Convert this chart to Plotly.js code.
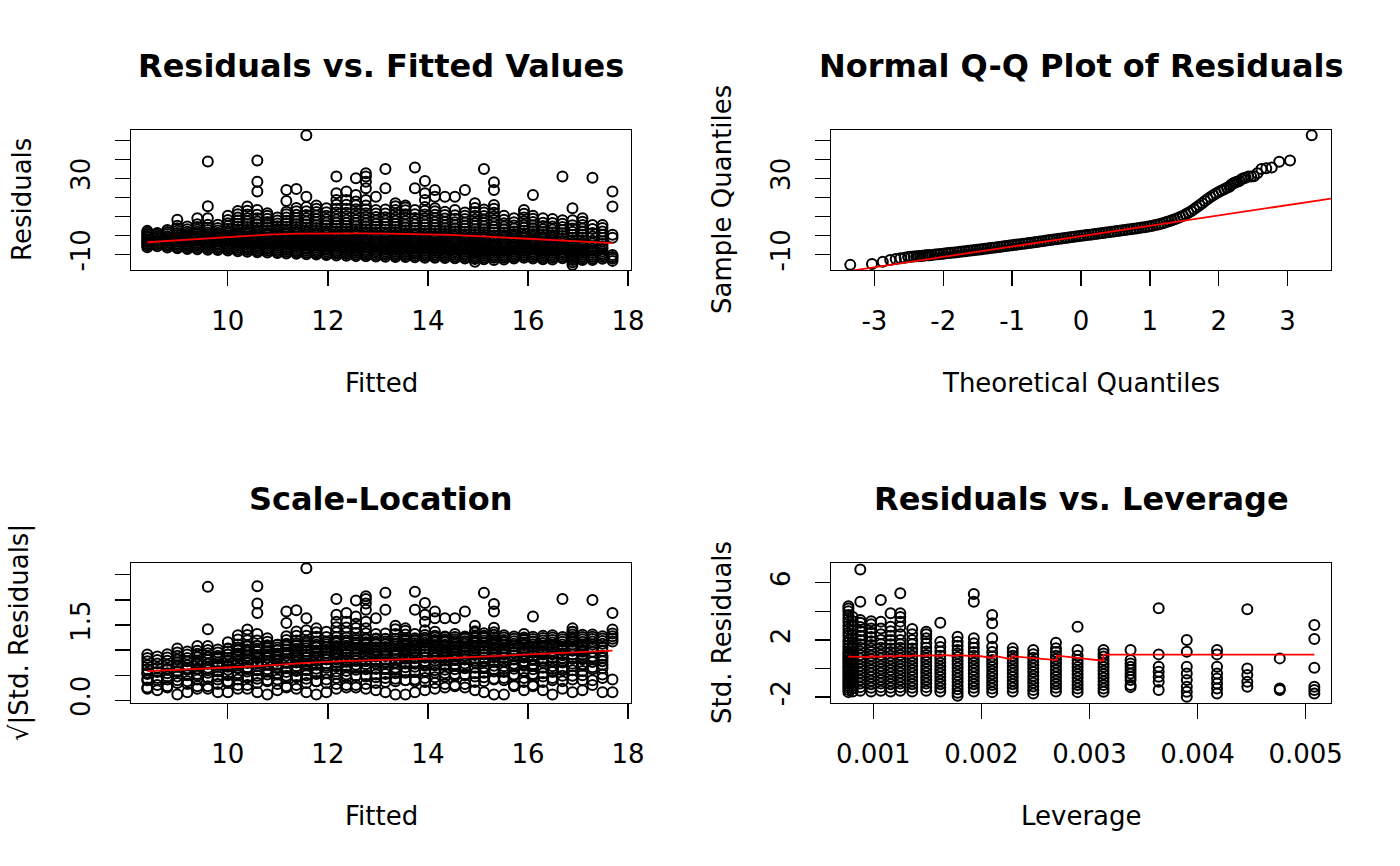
<!DOCTYPE html>
<html>
<head>
<meta charset="utf-8">
<script src="https://cdn.plot.ly/plotly-3.0.1.min.js"></script>
<style>html,body{margin:0;padding:0;background:#fff;}#chart{width:1400px;height:866px;}</style>
</head>
<body>
<div id="chart"></div>
<script>
// ---------- Panel 1 / 3 data: fitted value columns and their residuals ----------
const fittedValues = [8.39, 8.59, 8.79, 8.99, 9.19, 9.39, 9.6, 9.8, 10.0, 10.2, 10.39, 10.59, 10.79, 10.99, 11.17, 11.37,
  11.57, 11.77, 11.97, 12.17, 12.37, 12.56, 12.76, 12.96, 13.15, 13.35, 13.55, 13.74, 13.94, 14.14, 14.34, 14.54,
  14.74, 14.94, 15.12, 15.32, 15.52, 15.72, 15.92, 16.1, 16.3, 16.49, 16.69, 16.89, 17.09, 17.29, 17.49, 17.69];

const residualColumns = [
  [-6.3,-5.4,-4.6,-3.7,-2.9,-2.1,-1.2,-0.4,0.5,1.4,2.3],
  [-5.8,-4.9,-4.1,-3.2,-2.4,-1.5,-0.7,0.3,1.2],
  [-6.4,-5.5,-4.7,-3.8,-3.0,-2.2,-1.3,-0.5,0.6,1.7,2.8],
  [-6.9,-6.0,-5.1,-4.3,-3.4,-2.6,-1.7,-0.9,0.1,1.2,2.4,3.7,5.0,8.1],
  [-7.2,-6.3,-5.4,-4.6,-3.7,-2.8,-2.0,-1.1,-0.2,0.8,1.9,3.1,4.6],
  [-7.4,-6.5,-5.6,-4.7,-3.9,-3.0,-2.1,-1.3,-0.4,0.6,1.8,3.0,4.3,5.8,8.9],
  [-7.6,-6.7,-5.8,-4.9,-4.1,-3.2,-2.3,-1.5,-0.6,0.4,1.5,2.7,4.0,5.5,8.9,15.2,38.8],
  [-7.8,-6.9,-6.0,-5.2,-4.3,-3.4,-2.6,-1.7,-0.8,0.2,1.3,2.5,3.8,5.5],
  [-8.1,-7.2,-6.3,-5.4,-4.6,-3.7,-2.8,-1.9,-1.1,-0.2,0.9,2.1,3.4,4.8,6.3,8.0,10.2],
  [-8.4,-7.5,-6.6,-5.7,-4.8,-4.0,-3.1,-2.2,-1.3,-0.4,0.7,1.9,3.2,4.6,6.1,7.7,9.4,11.1,12.8],
  [-8.7,-7.8,-6.9,-6.0,-5.1,-4.2,-3.3,-2.5,-1.6,-0.7,0.4,1.6,2.9,4.3,5.8,7.4,9.1,10.9,12.9,15.1],
  [-8.9,-8.0,-7.1,-6.2,-5.3,-4.4,-3.6,-2.7,-1.8,-0.9,0.2,1.4,2.7,4.1,5.6,7.2,8.9,10.8,13.3,23.0,28.2,39.3],
  [-9.1,-8.2,-7.3,-6.4,-5.5,-4.6,-3.8,-2.9,-2.0,-1.1,0.1,1.2,2.5,3.9,5.4,7.0,8.7,10.3,11.6],
  [-9.3,-8.4,-7.5,-6.6,-5.7,-4.8,-3.9,-3.1,-2.2,-1.3,-0.3,0.8,2.0,3.3,4.7,6.2,7.7,9.3],
  [-9.6,-8.7,-7.8,-6.9,-6.0,-5.1,-4.2,-3.3,-2.4,-1.5,-0.5,0.6,1.8,3.1,4.5,6.0,7.6,9.3,11.0,12.4,18.0,23.8],
  [-9.8,-8.9,-8.0,-7.1,-6.2,-5.3,-4.4,-3.5,-2.6,-1.7,-0.7,0.4,1.6,2.9,4.3,5.8,7.4,9.1,10.8,12.6,14.3,24.4],
  [-10.0,-9.1,-8.2,-7.3,-6.4,-5.5,-4.6,-3.7,-2.8,-1.9,-0.9,0.2,1.4,2.7,4.1,5.6,7.2,8.9,10.7,12.6,14.8,20.3,52.6],
  [-10.2,-9.3,-8.4,-7.5,-6.6,-5.7,-4.8,-3.9,-3.0,-2.1,-1.1,-0.1,1.1,2.4,3.8,5.3,6.9,8.6,10.4,12.2,14.0,15.6],
  [-10.4,-9.5,-8.6,-7.7,-6.8,-5.9,-5.0,-4.1,-3.2,-2.3,-1.3,-0.2,0.9,2.2,3.6,5.1,6.7,8.4,10.2,12.1,14.2],
  [-10.7,-9.8,-8.9,-8.0,-7.1,-6.2,-5.3,-4.4,-3.5,-2.5,-1.5,-0.4,0.8,2.1,3.5,5.0,6.6,8.3,10.1,12.0,14.0,16.1,18.6,22.1,30.9],
  [-10.8,-9.9,-9.0,-8.1,-7.2,-6.3,-5.4,-4.5,-3.6,-2.6,-1.6,-0.5,0.7,2.0,3.4,4.9,6.5,8.2,10.0,11.9,13.9,16.0,18.6,23.0],
  [-11.0,-10.1,-9.2,-8.3,-7.4,-6.5,-5.6,-4.7,-3.8,-2.8,-1.8,-0.7,0.5,1.8,3.2,4.7,6.3,8.0,9.8,11.7,13.7,15.8,17.7,21.2,30.0],
  [-11.1,-10.2,-9.3,-8.4,-7.5,-6.6,-5.7,-4.8,-3.9,-2.9,-1.9,-0.8,0.4,1.7,3.1,4.6,6.2,7.9,9.7,11.6,13.6,15.7,18.6,24.7,28.2,30.9,32.6],
  [-11.2,-10.3,-9.4,-8.5,-7.6,-6.7,-5.8,-4.9,-4.0,-3.0,-2.0,-0.9,0.3,1.6,3.0,4.5,6.1,7.8,9.6,11.5,13.3,20.3],
  [-11.3,-10.4,-9.5,-8.6,-7.7,-6.8,-5.9,-5.0,-4.1,-3.1,-2.1,-1.0,0.2,1.5,2.9,4.4,6.0,7.7,9.5,11.4,13.5,24.7,34.9],
  [-11.4,-10.5,-9.6,-8.7,-7.8,-6.9,-6.0,-5.1,-4.2,-3.2,-2.2,-1.1,0.1,1.4,2.8,4.3,5.9,7.6,9.4,11.3,13.3,15.2,16.8],
  [-11.5,-10.6,-9.7,-8.8,-7.9,-7.0,-6.1,-5.2,-4.3,-3.3,-2.3,-1.2,-0.1,1.2,2.6,4.1,5.7,7.4,9.2,11.1,13.1,14.6,15.6],
  [-11.6,-10.7,-9.8,-8.9,-8.0,-7.1,-6.2,-5.3,-4.4,-3.4,-2.4,-1.3,-0.2,1.1,2.5,4.0,5.6,7.3,9.1,11.0,13.3,24.7,35.6],
  [-11.8,-10.9,-10.0,-9.1,-8.2,-7.3,-6.4,-5.5,-4.6,-3.6,-2.6,-1.5,-0.3,1.0,2.4,3.9,5.5,7.2,9.0,10.9,12.9,14.8,18.6,22.1,28.6],
  [-11.9,-11.0,-10.1,-9.2,-8.3,-7.4,-6.5,-5.6,-4.7,-3.7,-2.7,-1.6,-0.4,0.9,2.3,3.8,5.4,7.1,8.9,10.8,12.6,14.2,20.3,23.8],
  [-12.0,-11.1,-10.2,-9.3,-8.4,-7.5,-6.6,-5.7,-4.8,-3.8,-2.8,-1.7,-0.5,0.8,2.2,3.7,5.3,7.0,8.8,10.6,12.3,20.3],
  [-12.1,-11.2,-10.3,-9.4,-8.5,-7.6,-6.7,-5.8,-4.9,-3.9,-2.9,-1.8,-0.6,0.7,2.1,3.6,5.2,6.9,8.7,10.5,13.3,20.3],
  [-12.3,-11.4,-10.5,-9.6,-8.7,-7.8,-6.9,-6.0,-5.1,-4.1,-3.1,-2.0,-0.8,0.5,1.9,3.4,5.0,6.7,8.5,10.3,12.0,23.8],
  [-13.9,-12.5,-11.6,-10.7,-9.8,-8.9,-8.0,-7.1,-6.2,-5.3,-4.3,-3.3,-2.2,-1.0,0.3,1.7,3.2,4.8,6.5,8.3,10.2,12.2,14.4,16.8],
  [-12.6,-11.7,-10.8,-9.9,-9.0,-8.1,-7.2,-6.3,-5.4,-4.4,-3.4,-2.3,-1.1,0.2,1.6,3.1,4.7,6.4,8.2,10.1,12.0,13.6,34.9],
  [-13.0,-11.9,-11.0,-10.1,-9.2,-8.3,-7.4,-6.5,-5.6,-4.6,-3.6,-2.5,-1.3,-0.1,1.4,2.9,4.5,6.2,8.0,9.9,11.8,14.0,15.9,23.8,27.9],
  [-12.8,-11.9,-11.0,-10.1,-9.2,-8.3,-7.4,-6.5,-5.5,-4.5,-3.5,-2.4,-1.2,0.1,1.5,3.0,4.6,6.3,8.2,10.3],
  [-12.3,-11.4,-10.5,-9.6,-8.7,-7.8,-6.9,-6.0,-5.0,-4.0,-3.0,-1.9,-0.7,0.6,2.0,3.5,5.1,6.9,8.9],
  [-11.9,-11.0,-10.1,-9.2,-8.3,-7.4,-6.5,-5.6,-4.6,-3.6,-2.6,-1.5,-0.3,1.0,2.4,3.9,5.5,7.3,9.3,11.3,13.3],
  [-12.2,-11.3,-10.4,-9.5,-8.6,-7.7,-6.8,-5.9,-4.9,-3.9,-2.9,-1.8,-0.6,0.7,2.1,3.6,5.2,7.0,8.7,10.3,21.2],
  [-12.6,-11.7,-10.8,-9.9,-9.0,-8.1,-7.2,-6.3,-5.3,-4.3,-3.3,-2.2,-1.0,0.3,1.7,3.2,4.8,6.6,8.9],
  [-12.8,-11.9,-11.0,-10.1,-9.2,-8.3,-7.4,-6.5,-5.5,-4.5,-3.5,-2.4,-1.2,0.1,1.5,3.0,4.6,6.4,8.6],
  [-12.1,-11.2,-10.3,-9.4,-8.5,-7.5,-6.5,-5.4,-4.3,-3.1,-1.8,-0.4,1.1,2.7,4.4,6.1,7.9,30.9],
  [-15.6,-14.2,-13.1,-12.1,-11.2,-10.3,-9.4,-8.4,-7.4,-6.3,-5.2,-4.0,-2.7,-1.3,0.2,1.8,3.5,5.3,7.9,14.2],
  [-13.0,-12.1,-11.2,-10.3,-9.4,-8.4,-7.4,-6.3,-5.1,-3.9,-2.6,-1.2,0.3,1.9,3.6,5.4,7.1,8.9],
  [-13.1,-12.2,-11.3,-10.4,-9.4,-8.3,-7.1,-5.8,-4.4,-2.9,-0.7,1.2,3.3,5.4,30.3],
  [-12.4,-11.5,-10.6,-9.6,-8.5,-7.3,-6.0,-4.6,-3.1,-1.5,0.2,2.0,3.8,5.4],
  [-13.5,-12.4,-11.4,-10.4,-1.3,0.2,15.1,23.0]
];
const residualSE = 7.6;

const lowessFittedX = [8.39, 9.0, 9.6, 10.2, 10.8, 11.4, 12.0, 12.6, 13.2, 13.8, 14.4, 15.0, 15.6, 16.2, 16.8, 17.4, 17.69];
const lowessResidualY = [-3.7, -2.6, -1.5, -0.5, 0.3, 0.8, 1.0, 1.0, 0.9, 0.6, 0.2, -0.5, -1.3, -2.2, -3.1, -3.9, -4.2];
const lowessScaleX = [8.39, 9.5, 10.6, 11.5, 12.3, 13.3, 14.4, 15.3, 16.2, 17.0, 17.69];
const lowessScaleY = [0.58, 0.63, 0.68, 0.74, 0.78, 0.81, 0.84, 0.88, 0.92, 0.95, 0.99];

// ---------- Panel 2 data: normal Q-Q ----------
const qqTheoretical = [-3.35,-3.035,-2.878,-2.77,-2.69,-2.62,-2.56,-2.51,-2.47,-2.43,-2.39,-2.36,-2.33,-2.30,-2.27,-2.245,-2.22,-2.20,
  -2.16,-2.12,-2.08,-2.04,-2.00,-1.96,-1.92,-1.88,-1.84,-1.80,-1.76,-1.72,-1.68,-1.64,-1.60,-1.56,-1.52,-1.48,-1.44,-1.40,
  -1.36,-1.32,-1.28,-1.24,-1.20,-1.16,-1.12,-1.08,-1.04,-1.00,-0.96,-0.92,-0.88,-0.84,-0.80,-0.76,-0.72,-0.68,-0.64,-0.60,
  -0.56,-0.52,-0.48,-0.44,-0.40,-0.36,-0.32,-0.28,-0.24,-0.20,-0.16,-0.12,-0.08,-0.04,0,0.04,0.08,0.12,0.16,0.20,
  0.24,0.28,0.32,0.36,0.40,0.44,0.48,0.52,0.56,0.60,0.64,0.68,0.72,0.76,0.80,0.84,0.88,0.92,0.96,1.00,
  1.04,1.08,1.12,1.16,1.20,1.24,1.28,1.32,1.36,1.40,1.44,1.48,1.52,1.56,1.60,1.64,1.68,1.72,1.76,1.80,
  1.84,1.88,1.92,1.96,2.00,2.04,2.08,2.12,
  2.155,2.175,2.20,2.22,2.245,2.27,2.30,2.33,2.36,2.39,2.43,2.47,2.51,2.56,2.62,2.69,2.77,2.878,3.035,3.35];
const qqSample = [-15.6,-15.1,-13.9,-13.0,-12.5,-12.1,-11.8,-11.5,-11.3,-11.2,-11.1,-11.0,-10.9,-10.8,-10.7,-10.6,-10.55,-10.5,
  -10.34,-10.18,-10.02,-9.86,-9.70,-9.54,-9.38,-9.22,-9.06,-8.90,-8.73,-8.56,-8.39,-8.22,-8.05,-7.87,-7.69,-7.51,-7.33,-7.15,
  -6.96,-6.77,-6.58,-6.39,-6.20,-6.01,-5.82,-5.63,-5.44,-5.25,-5.06,-4.87,-4.68,-4.49,-4.30,-4.10,-3.90,-3.70,-3.50,-3.30,
  -3.10,-2.90,-2.70,-2.50,-2.30,-2.10,-1.90,-1.70,-1.50,-1.30,-1.10,-0.90,-0.70,-0.50,-0.30,-0.12,0.06,0.24,0.42,0.60,
  0.80,1.00,1.20,1.40,1.60,1.80,2.00,2.20,2.40,2.60,2.80,3.00,3.20,3.40,3.60,3.82,4.04,4.26,4.48,4.70,
  5.02,5.34,5.70,6.10,6.50,6.94,7.38,7.88,8.44,9.00,9.64,10.28,11.00,11.80,12.60,13.64,14.68,15.76,16.88,18.00,
  19.04,20.08,21.04,21.92,22.80,23.52,24.24,24.96,
  25.5,26.5,27.0,27.5,27.9,28.2,28.6,29.5,30.0,30.3,30.9,30.9,31.0,32.6,34.9,35.2,35.6,38.7,39.3,52.6];
const qqLineX = [-3.63, 3.63];
const qqLineY = [-20.3, 19.3];

// ---------- Panel 4 data: leverage columns and standardized residuals ----------
const leverageValues = [0.00077, 0.00081, 0.00088, 0.00098, 0.00107, 0.00116, 0.00125, 0.00136, 0.00149, 0.00162, 0.00178,
  0.00193, 0.0021, 0.00229, 0.00248, 0.00269, 0.00289, 0.00313, 0.00338, 0.00364, 0.0039, 0.00418, 0.00446, 0.00476, 0.00508];
const stdResidualColumns = [
  [-1.65,-1.5,-1.35,-1.2,-1.05,-0.9,-0.75,-0.6,-0.45,-0.3,-0.15,0,0.15,0.3,0.45,0.6,0.75,0.9,1.05,1.2,1.4,1.6,1.8,2.0,2.25,2.5,2.75,3.0,3.25,3.5,3.75,4.0,4.2,4.35],
  [-1.6,-1.4,-1.2,-1.0,-0.8,-0.6,-0.4,-0.2,0,0.2,0.4,0.6,0.8,1.0,1.2,1.4,1.6,1.8,2.1,2.4,2.7,3.0,3.3,3.6],
  [-1.55,-1.3,-1.05,-0.8,-0.55,-0.3,-0.05,0.2,0.45,0.7,0.95,1.2,1.45,1.7,2.0,2.3,2.6,2.9,3.2,3.4,4.67,6.93],
  [-1.6,-1.35,-1.1,-0.85,-0.6,-0.35,-0.1,0.15,0.4,0.65,0.9,1.15,1.4,1.65,1.9,2.2,2.5,2.8,3.1,3.3],
  [-1.55,-1.3,-1.05,-0.8,-0.55,-0.3,-0.05,0.2,0.45,0.7,0.95,1.2,1.45,1.7,2.0,2.4,2.8,3.28,4.79],
  [-1.6,-1.35,-1.1,-0.85,-0.6,-0.35,-0.1,0.15,0.4,0.65,0.9,1.15,1.4,1.7,2.0,2.3,2.6,2.93,3.86],
  [-1.55,-1.3,-1.05,-0.8,-0.55,-0.3,-0.05,0.2,0.45,0.7,0.95,1.2,1.45,1.7,2.0,2.4,2.93,3.28,3.6,3.86,5.26],
  [-1.6,-1.35,-1.1,-0.85,-0.6,-0.35,-0.1,0.15,0.4,0.65,0.9,1.15,1.4,1.7,1.99,2.4,2.76],
  [-1.55,-1.3,-1.05,-0.8,-0.55,-0.3,-0.05,0.2,0.45,0.7,0.95,1.2,1.45,1.75,2.11,2.4,2.58],
  [-1.6,-1.35,-1.1,-0.85,-0.6,-0.35,-0.1,0.15,0.4,0.65,0.9,1.2,1.5,1.88,3.2],
  [-1.9,-1.7,-1.45,-1.2,-0.95,-0.7,-0.45,-0.2,0.05,0.3,0.55,0.8,1.05,1.3,1.6,1.88,2.23],
  [-1.6,-1.35,-1.1,-0.85,-0.6,-0.35,-0.1,0.15,0.4,0.65,0.9,1.15,1.45,1.76,2.11,4.67,5.21],
  [-1.65,-1.4,-1.15,-0.9,-0.65,-0.4,-0.15,0.1,0.35,0.6,0.85,1.15,1.53,2.11,3.16,3.74],
  [-1.6,-1.35,-1.1,-0.85,-0.6,-0.35,-0.1,0.15,0.4,0.65,0.9,1.15,1.41],
  [-1.75,-1.5,-1.25,-1.0,-0.75,-0.5,-0.25,0,0.25,0.5,0.75,1.0,1.29],
  [-1.6,-1.35,-1.1,-0.85,-0.6,-0.35,-0.1,0.15,0.4,0.65,0.9,1.15,1.41,1.81],
  [-1.65,-1.4,-1.15,-0.9,-0.65,-0.4,-0.15,0.1,0.35,0.6,0.9,1.29,2.93],
  [-1.62,-1.4,-1.15,-0.9,-0.65,-0.4,-0.15,0.1,0.35,0.6,0.85,1.05,1.29],
  [-1.3,-1.15,-0.8,-0.57,-0.34,-0.1,0.13,0.35,0.59,1.29],
  [-1.5,-0.92,-0.57,-0.22,0.13,0.99,4.21],
  [-1.97,-1.62,-1.27,-0.8,-0.34,0.13,1.18,1.99],
  [-1.74,-1.39,-1.04,-0.69,-0.34,0.13,0.99,1.29],
  [-1.27,-0.92,-0.45,0.01,4.14],
  [-1.5,-1.39,0.71],
  [-1.74,-1.5,-1.27,0.06,2.06,3.04]
];
const lowessLeverageX = [0.000769,0.000965,0.000972,0.00109,0.001096,0.001213,0.001219,0.001352,0.001358,0.001491,0.001497,
  0.00163,0.001636,0.001768,0.001774,0.001922,0.001928,0.002107,0.002113,0.002277,0.002283,0.002694,0.0027,0.003125,0.003131,0.00508];
const lowessLeverageY = [0.83,0.80,0.86,0.82,0.88,0.84,0.90,0.86,0.92,0.87,0.94,0.88,0.95,0.88,0.95,0.86,0.93,0.74,0.90,0.66,0.86,
  0.59,0.90,0.55,0.97,0.97];

// ---------- Build point arrays from the columns ----------
const p1x = [], p1y = [], p3y = [];
fittedValues.forEach((fx, i) => {
  residualColumns[i].forEach(r => {
    p1x.push(fx); p1y.push(r);
    p3y.push(Math.sqrt(Math.abs(r) / residualSE));
  });
});
const p4x = [], p4y = [];
leverageValues.forEach((lv, i) => {
  stdResidualColumns[i].forEach(s => { p4x.push(lv); p4y.push(s); });
});
const nq = Math.min(qqTheoretical.length, qqSample.length);

const marker = {symbol: 'circle-open', size: 10, color: 'black', line: {width: 2, color: 'black'}};
const redLine = {color: '#ff0000', width: 1.8};

const traces = [
  {type: 'scatter', mode: 'markers', x: p1x, y: p1y, xaxis: 'x', yaxis: 'y', marker: marker, showlegend: false},
  {type: 'scatter', mode: 'lines', x: lowessFittedX, y: lowessResidualY, xaxis: 'x', yaxis: 'y', line: redLine, showlegend: false},
  {type: 'scatter', mode: 'markers', x: qqTheoretical.slice(0, nq), y: qqSample.slice(0, nq), xaxis: 'x2', yaxis: 'y2', marker: marker, showlegend: false},
  {type: 'scatter', mode: 'lines', x: qqLineX, y: qqLineY, xaxis: 'x2', yaxis: 'y2', line: redLine, showlegend: false},
  {type: 'scatter', mode: 'markers', x: p1x, y: p3y, xaxis: 'x3', yaxis: 'y3', marker: marker, showlegend: false},
  {type: 'scatter', mode: 'lines', x: lowessScaleX, y: lowessScaleY, xaxis: 'x3', yaxis: 'y3', line: redLine, showlegend: false},
  {type: 'scatter', mode: 'markers', x: p4x, y: p4y, xaxis: 'x4', yaxis: 'y4', marker: marker, showlegend: false},
  {type: 'scatter', mode: 'lines', x: lowessLeverageX, y: lowessLeverageY, xaxis: 'x4', yaxis: 'y4', line: redLine, showlegend: false}
];

const W = 1400, H = 866;
const fx = px => px / W;
const fy = py => 1 - py / H;
const font = {family: 'DejaVu Sans', size: 26, color: 'black'};
const common = {
  showline: true, mirror: true, linecolor: 'black', linewidth: 1.3,
  ticks: 'outside', ticklen: 15, tickwidth: 1.3, tickcolor: 'black',
  showgrid: false, zeroline: false, fixedrange: true, tickfont: font
};
const xStyle = Object.assign({}, common, {ticklabelstandoff: 12});
const yStyle = Object.assign({}, common, {tickangle: -90, ticklabelstandoff: 14});

const colL = [fx(131), fx(631)], colR = [fx(831), fx(1331)];
const rowT = [fy(270), fy(130)], rowB = [fy(703), fy(563)];

const layout = {
  width: W, height: H,
  margin: {l: 0, r: 0, t: 0, b: 0},
  paper_bgcolor: 'white', plot_bgcolor: 'white',
  font: font,
  showlegend: false,
  xaxis: Object.assign({}, xStyle, {domain: colL, anchor: 'y', range: [8.064, 18.06], tickvals: [10, 12, 14, 16, 18]}),
  yaxis: Object.assign({}, yStyle, {domain: rowT, anchor: 'x', range: [-18.3, 55.4],
    tickvals: [-10, 0, 10, 20, 30, 40, 50], ticktext: ['-10', '', '', '', '30', '', '']}),
  xaxis2: Object.assign({}, xStyle, {domain: colR, anchor: 'y2', range: [-3.63, 3.63],
    tickvals: [-3, -2, -1, 0, 1, 2, 3], ticktext: ['-3', '-2', '-1', '0', '1', '2', '3']}),
  yaxis2: Object.assign({}, yStyle, {domain: rowT, anchor: 'x2', range: [-18.3, 55.4],
    tickvals: [-10, 0, 10, 20, 30, 40, 50], ticktext: ['-10', '', '', '', '30', '', '']}),
  xaxis3: Object.assign({}, xStyle, {domain: colL, anchor: 'y3', range: [8.064, 18.06], tickvals: [10, 12, 14, 16, 18]}),
  yaxis3: Object.assign({}, yStyle, {domain: rowB, anchor: 'x3', range: [-0.054, 2.735],
    tickvals: [0, 0.5, 1, 1.5, 2, 2.5], ticktext: ['0.0', '', '', '1.5', '', '']}),
  xaxis4: Object.assign({}, xStyle, {domain: colR, anchor: 'y4', range: [0.000609, 0.005234],
    tickvals: [0.001, 0.002, 0.003, 0.004, 0.005], ticktext: ['0.001', '0.002', '0.003', '0.004', '0.005']}),
  yaxis4: Object.assign({}, yStyle, {domain: rowB, anchor: 'x4', range: [-2.41, 7.38],
    tickvals: [-2, 0, 2, 4, 6], ticktext: ['-2', '', '2', '', '6']}),
  annotations: []
};

function ann(text, x, y, opts) {
  layout.annotations.push(Object.assign({
    text: text, x: x, y: y, xref: 'paper', yref: 'paper', showarrow: false,
    xanchor: 'center', yanchor: 'middle', font: font
  }, opts || {}));
}
const titleFont = {family: 'DejaVu Sans', size: 32, color: 'black', weight: 'bold'};
ann('<b>Residuals vs. Fitted Values</b>', fx(381), fy(66), {font: titleFont});
ann('<b>Normal Q-Q Plot of Residuals</b>', fx(1081), fy(66), {font: titleFont});
ann('<b>Scale-Location</b>', fx(381), fy(499), {font: titleFont});
ann('<b>Residuals vs. Leverage</b>', fx(1081), fy(499), {font: titleFont});
ann('Fitted', fx(381), fy(383));
ann('Theoretical Quantiles', fx(1081), fy(383));
ann('Fitted', fx(381), fy(816));
ann('Leverage', fx(1081), fy(816));
ann('Residuals', fx(22), fy(200), {textangle: -90});
ann('Sample Quantiles', fx(722), fy(200), {textangle: -90});
ann('√|Std. Residuals|', fx(19), fy(633), {textangle: -90});
ann('Std. Residuals', fx(722), fy(633), {textangle: -90});

Plotly.newPlot('chart', traces, layout, {staticPlot: true, displayModeBar: false});
</script>
</body>
</html>
